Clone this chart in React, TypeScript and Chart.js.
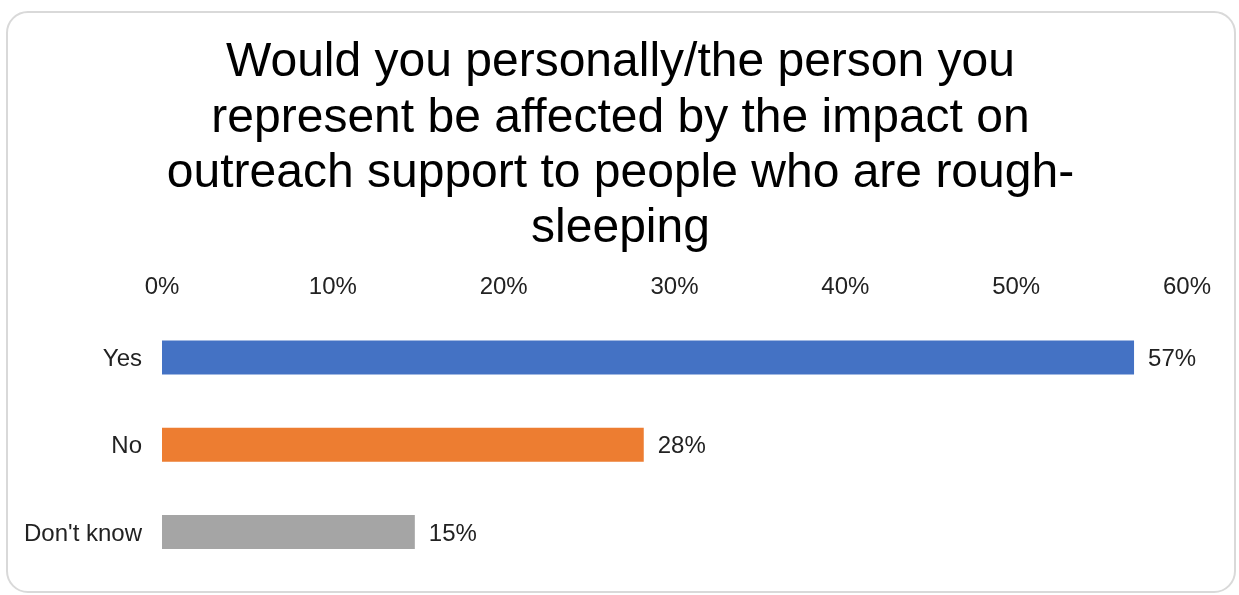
import React, { useEffect, useRef } from "react";
import { Chart, registerables } from "chart.js";

Chart.register(...registerables);

const titleLines = [
  "Would you personally/the person you",
  "represent be affected by the impact on",
  "outreach support to people who are rough-",
  "sleeping",
];
const categories = ["Yes", "No", "Don't know"];
const values = [56.9, 28.2, 14.8];
const valueLabels = ["57%", "28%", "15%"];
const barColors = ["#4472C4", "#ED7D31", "#A5A5A5"];
const xTicks = [0, 10, 20, 30, 40, 50, 60];

const FONT = "'Liberation Sans', Arial, sans-serif";

const titlePlugin = {
  id: "customTitle",
  afterDraw(chart: any) {
    const ctx = chart.ctx;
    ctx.save();
    ctx.font = `48px ${FONT}`;
    ctx.fillStyle = "#000";
    ctx.textAlign = "center";
    ctx.textBaseline = "middle";
    titleLines.forEach((line, i) => {
      ctx.fillText(line, chart.width / 2 + 1, 63 + i * 55.3);
    });
    ctx.restore();
  },
};

const valueLabelPlugin = {
  id: "valueLabels",
  afterDatasetsDraw(chart: any) {
    const ctx = chart.ctx;
    const meta = chart.getDatasetMeta(0);
    ctx.save();
    ctx.font = `24px ${FONT}`;
    ctx.fillStyle = "#222";
    ctx.textAlign = "left";
    ctx.textBaseline = "middle";
    meta.data.forEach((bar: any, i: number) => {
      ctx.fillText(valueLabels[i], bar.x + 14, bar.y + 2);
    });
    ctx.restore();
  },
};

export default function App() {
  const ref = useRef<HTMLCanvasElement | null>(null);
  useEffect(() => {
    if (!ref.current) return;
    const chart = new Chart(ref.current, {
      type: "bar",
      data: {
        labels: categories,
        datasets: [
          {
            data: values,
            backgroundColor: barColors,
            barPercentage: 0.39,
            categoryPercentage: 1,
          },
        ],
      },
      options: {
        indexAxis: "y",
        animation: false,
        responsive: false,
        maintainAspectRatio: false,
        layout: { padding: { left: 0, right: 52, top: 254, bottom: 19.5 } },
        plugins: {
          legend: { display: false },
          tooltip: { enabled: false },
          title: { display: false },
        },
        scales: {
          x: {
            position: "top",
            min: 0,
            max: 60,
            afterBuildTicks(scale: any) {
              scale.ticks = xTicks.map((v) => ({ value: v }));
            },
            afterFit(scale: any) {
              scale.height = 60;
            },
            grid: { display: false, drawTicks: false },
            border: { display: false },
            ticks: {
              padding: 12,
              color: "#222",
              font: { family: FONT, size: 24 },
              callback: (v: any) => `${v}%`,
            },
          },
          y: {
            afterFit(scale: any) {
              scale.width = 162;
              scale.paddingTop = 0;
              scale.paddingBottom = 0;
            },
            grid: { display: false, drawTicks: false },
            border: { display: false },
            ticks: {
              padding: 20,
              labelOffset: 2,
              color: "#222",
              font: { family: FONT, size: 24 },
            },
          },
        },
      },
      plugins: [valueLabelPlugin, titlePlugin],
    });
    return () => chart.destroy();
  }, []);

  return (
    <div style={{ position: "fixed", left: 0, top: 0, width: 1239, height: 595, background: "#fff" }}>
      <div
        style={{
          position: "absolute",
          left: 6,
          top: 11,
          width: 1226,
          height: 578,
          border: "2px solid #d9d9d9",
          borderRadius: 22,
        }}
      />
      <canvas
        ref={ref}
        width={1239}
        height={595}
        style={{ position: "absolute", left: 0, top: 0, width: 1239, height: 595 }}
      />
    </div>
  );
}
